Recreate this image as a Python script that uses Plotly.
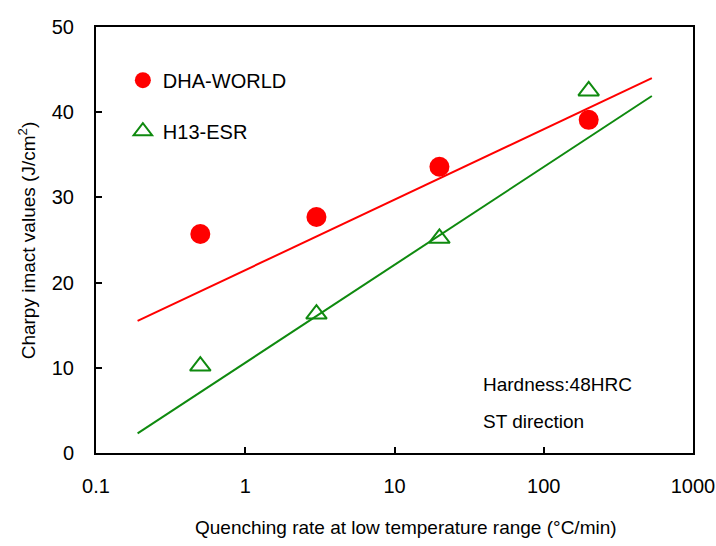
import plotly.graph_objects as go

# Data
rate = [0.5, 3, 20, 200]
dha_world = [25.7, 27.7, 33.6, 39.1]
h13_esr = [10.2, 16.3, 25.2, 42.5]

# Trend line end points (as drawn in the reference)
fit_rate = [0.19, 530]
fit_dha = [15.5, 44.0]
fit_h13 = [2.3, 41.9]

x_ticks = [0.1, 1, 10, 100, 1000]
x_ticktext = ["0.1", "1", "10", "100", "1000"]
y_ticks = [0, 10, 20, 30, 40, 50]

RED = "#ff0000"
GREEN = "#0f8a0f"
FONT = "Liberation Sans, Arial, sans-serif"

fig = go.Figure()
fig.add_trace(go.Scatter(x=fit_rate, y=fit_dha, mode="lines",
                         line=dict(color=RED, width=2), showlegend=False, hoverinfo="skip"))
fig.add_trace(go.Scatter(x=fit_rate, y=fit_h13, mode="lines",
                         line=dict(color=GREEN, width=2), showlegend=False, hoverinfo="skip"))
fig.add_trace(go.Scatter(x=rate, y=dha_world, mode="markers", name="DHA-WORLD",
                         legendgroup="a",
                         marker=dict(symbol="circle", size=20, color=RED)))
fig.add_trace(go.Scatter(x=rate, y=h13_esr, mode="markers", name="H13-ESR",
                         legendgroup="b",
                         marker=dict(symbol="triangle-up-open", size=18, color=GREEN,
                                     line=dict(width=2, color=GREEN))))

fig.update_layout(
    width=716, height=546,
    margin=dict(l=96, r=23, t=27, b=93, autoexpand=False),
    paper_bgcolor="white", plot_bgcolor="white",
    font=dict(family=FONT, size=20, color="black"),
    legend=dict(x=0.045, y=0.921, xanchor="left", yanchor="top",
                bgcolor="rgba(0,0,0,0)", tracegroupgap=22,
                font=dict(family=FONT, size=20)),
    xaxis=dict(type="log", range=[-1, 3], tickvals=x_ticks, ticktext=x_ticktext,
               showline=True, mirror=True, linecolor="black", linewidth=2,
               ticks="inside", ticklen=6, tickwidth=1.5, tickcolor="black",
               showgrid=False, zeroline=False, ticklabelstandoff=14,
               ticklabeloverflow="allow", automargin=False,
               tickfont=dict(family=FONT, size=20)),
    yaxis=dict(range=[0, 50], tickvals=y_ticks,
               showline=True, mirror=True, linecolor="black", linewidth=2,
               ticks="inside", ticklen=6, tickwidth=1.5, tickcolor="black",
               showgrid=False, zeroline=False, ticklabelstandoff=16,
               ticklabeloverflow="allow", automargin=False,
               tickfont=dict(family=FONT, size=20)),
    annotations=[
        dict(text="Quenching rate at low temperature range (°C/min)", xref="paper", yref="paper",
             x=0.52, y=-0.175, xanchor="center", yanchor="middle", showarrow=False,
             font=dict(family=FONT, size=19)),
        dict(text="Charpy imact values (J/cm<sup>2</sup>)", xref="paper", yref="paper",
             x=-0.115, y=0.5, xanchor="center", yanchor="middle", textangle=-90, showarrow=False,
             font=dict(family=FONT, size=19)),
        dict(text="Hardness:48HRC", xref="paper", yref="paper",
             x=0.645, y=0.16, xanchor="left", yanchor="middle", showarrow=False,
             font=dict(family=FONT, size=19)),
        dict(text="ST direction", xref="paper", yref="paper",
             x=0.645, y=0.075, xanchor="left", yanchor="middle", showarrow=False,
             font=dict(family=FONT, size=19)),
    ],
)

fig.write_html("out.html")
